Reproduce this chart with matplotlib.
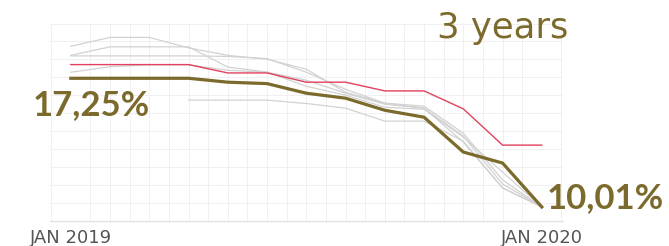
import numpy as np
import matplotlib.pyplot as plt

# monthly points, JAN 2019 .. JAN 2020
months = list(range(13))
tick_pos = [0, 12]
tick_labels = ['JAN 2019', 'JAN 2020']

olive_vals = [17.25, 17.25, 17.25, 17.25, 17.03, 16.95, 16.41, 16.13, 15.45, 15.06, 13.10, 12.48, 10.01]
red_vals = [18.02, 18.02, 18.02, 18.02, 17.55, 17.55, 17.03, 17.03, 16.54, 16.54, 15.53, 13.49, 13.49]

gray_a = [19.05, 19.55, 19.55, 18.96, 18.54, 18.32, 17.76, 16.46, 15.85, 15.68, 14.16, 11.53, 10.01]
gray_b = [18.54, 19.02, 19.02, 19.02, 17.88, 17.60, 16.80, 16.30, 15.62, 15.51, 13.94, 11.97, 10.01]
gray_c = [18.51, 18.51, 18.51, 18.51, 18.48, 18.36, 17.59, 16.63, 15.85, 15.57, 13.66, 11.08, 10.01]
gray_d = [17.59, 17.90, 18.01, 18.01, 17.70, 17.59, 17.14, 16.41, 15.79, 15.57, 14.00, 11.30, 10.01]
gray_e = [np.nan, np.nan, np.nan, 16.02, 16.02, 16.02, 15.83, 15.57, 14.84, 14.84, 13.71, 11.08, 10.01]

first_label = '17,25%'
last_label = '10,01%'
title = '3 years'

OLIVE = '#7b6a2c'
RED = '#e2405e'
GRAY = '#d2d2d2'

W, H = 669, 246
fig = plt.figure(figsize=(W / 100, H / 100), dpi=100)
ax = fig.add_axes([50 / W, 25 / H, 513 / W, 198 / H])

for g in [gray_a, gray_b, gray_c, gray_d, gray_e]:
    ax.plot(months, g, color=GRAY, lw=0.9, zorder=2)
ax.plot(months, red_vals, color=RED, lw=1.0, zorder=3)
ax.plot(months, olive_vals, color=OLIVE, lw=2.3, zorder=4, solid_joinstyle='miter')

ax.set_xlim(-0.53, 12.54)
ax.set_ylim(9.22, 20.36)
ax.set_xticks(np.arange(-0.5, 12.6, 0.5), minor=True)
ax.set_yticks(np.arange(9.22, 20.4, 1.01), minor=True)
ax.grid(which='minor', color='#f0f0f0', lw=0.7, zorder=0)
ax.set_yticks([])
ax.set_xticks(tick_pos, tick_labels)
ax.tick_params(axis='x', length=0, pad=6, labelsize=13, labelcolor='#555555')
ax.tick_params(which='minor', length=0)
for s in ['top', 'right', 'left']:
    ax.spines[s].set_visible(False)
ax.spines['bottom'].set_color('#e2e2e2')
ax.spines['bottom'].set_linewidth(1.0)

fig.text(33 / W, 1 - 115 / H, first_label, color=OLIVE, fontsize=25,
         fontweight='bold', family='Lato', va='baseline', ha='left')
fig.text(547 / W, 1 - 208 / H, last_label, color=OLIVE, fontsize=25,
         fontweight='bold', family='Lato', va='baseline', ha='left')
fig.text(437 / W, 1 - 38 / H, title, color=OLIVE, fontsize=25.5,
         family='DejaVu Sans', va='baseline', ha='left')

fig.savefig('out.png', dpi=100, facecolor='white')
